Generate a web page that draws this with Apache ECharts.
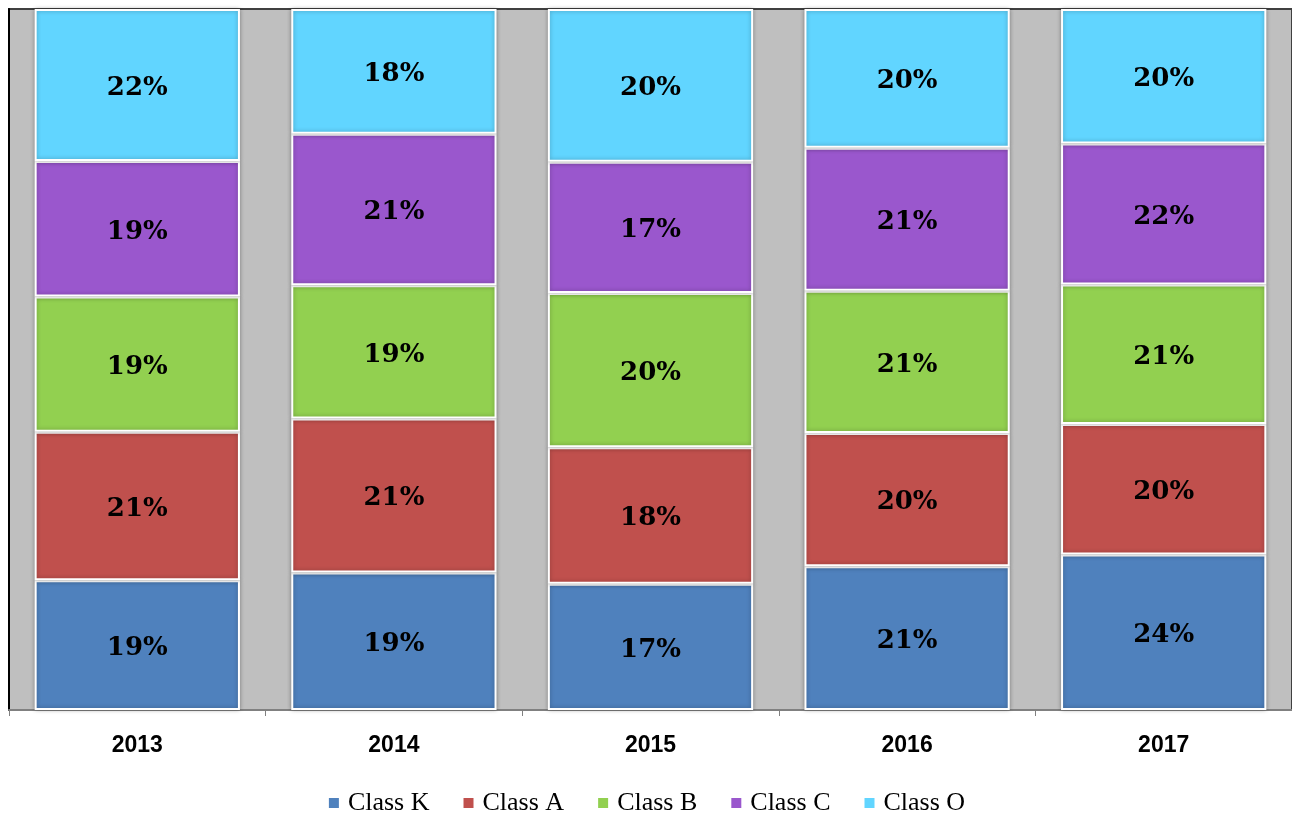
<!DOCTYPE html>
<html>
<head>
<meta charset="utf-8">
<script src="https://cdn.jsdelivr.net/npm/echarts@6/dist/echarts.min.js"></script>
<style>
    html, body { margin: 0; padding: 0; background: #fff; }
    #chart { width: 1292px; height: 815px; }
</style>
</head>
<body>
<div id="chart"></div>
<script>
// years on the x axis
var years = ['2013', '2014', '2015', '2016', '2017'];
var classNames = ['Class K', 'Class A', 'Class B', 'Class C', 'Class O'];

// segment shares (% of column)
var classK = [18.5, 19.6, 18.0, 20.5, 22.2];
var classA = [21.2, 22.0, 19.5, 19.0, 18.6];
var classB = [19.3, 19.0, 22.0, 20.3, 19.9];
var classC = [19.3, 21.6, 18.7, 20.4, 20.1];
var classO = [21.7, 17.8, 21.8, 19.8, 19.2];

// printed labels on each segment
var labelK = [19, 19, 17, 21, 24];
var labelA = [21, 21, 18, 20, 20];
var labelB = [19, 19, 20, 21, 21];
var labelC = [19, 21, 17, 21, 22];
var labelO = [22, 18, 20, 20, 20];

var colors = ['#4f81bd', '#c0504d', '#92d050', '#9a57cd', '#61d5ff'];

(function(){
    var values = [classK, classA, classB, classC, classO];
    var labels = [labelK, labelA, labelB, labelC, labelO];

    var series = classNames.map(function(name, i){
        return {
            name: name,
            type: 'bar',
            stack: 'total',
            barWidth: '80%',
            data: values[i],
            itemStyle: {
                color: colors[i],
                borderColor: '#ffffff',
                borderWidth: 2,
                shadowColor: 'rgba(0, 0, 0, 0.3)',
                shadowBlur: 4
            },
            label: {
                show: true,
                position: 'inside',
                offset: [0, 3],
                color: '#000',
                fontFamily: 'DejaVu Serif',
                fontWeight: 'bold',
                fontSize: 26,
                formatter: function(p){
                    return labels[i][p.dataIndex] + '%';
                }
            }
        };
    });

    var option = {
        animation: false,
        color: colors,
        grid: {
            left: 9,
            right: -3,
            top: 9,
            bottom: 105,
            show: true,
            backgroundColor: '#bfbfbf',
            borderColor: '#404040',
            borderWidth: 2
        },
        legend: {
            data: classNames,
            top: 785,
            left: 'center',
            icon: 'rect',
            itemWidth: 12,
            itemHeight: 12,
            itemGap: 32,
            textStyle: {
                fontFamily: 'Liberation Serif',
                fontSize: 26,
                color: '#000',
                padding: [0, 0, 0, 3]
            }
        },
        xAxis: {
            type: 'category',
            data: years,
            axisLine: { lineStyle: { color: '#808080', width: 2 } },
            axisTick: { show: true, length: 6, lineStyle: { color: '#808080' } },
            axisLabel: {
                margin: 24,
                color: '#000',
                fontFamily: 'Liberation Sans',
                fontWeight: 'bold',
                fontSize: 23
            }
        },
        yAxis: {
            type: 'value',
            min: 0,
            max: 100,
            axisLine: { show: true, lineStyle: { color: '#000', width: 2 } },
            axisTick: { show: false },
            axisLabel: { show: false },
            splitLine: { show: false }
        },
        series: series
    };

    var chart = echarts.init(document.getElementById('chart'));
    chart.setOption(option);
}());
</script>
</body>
</html>
